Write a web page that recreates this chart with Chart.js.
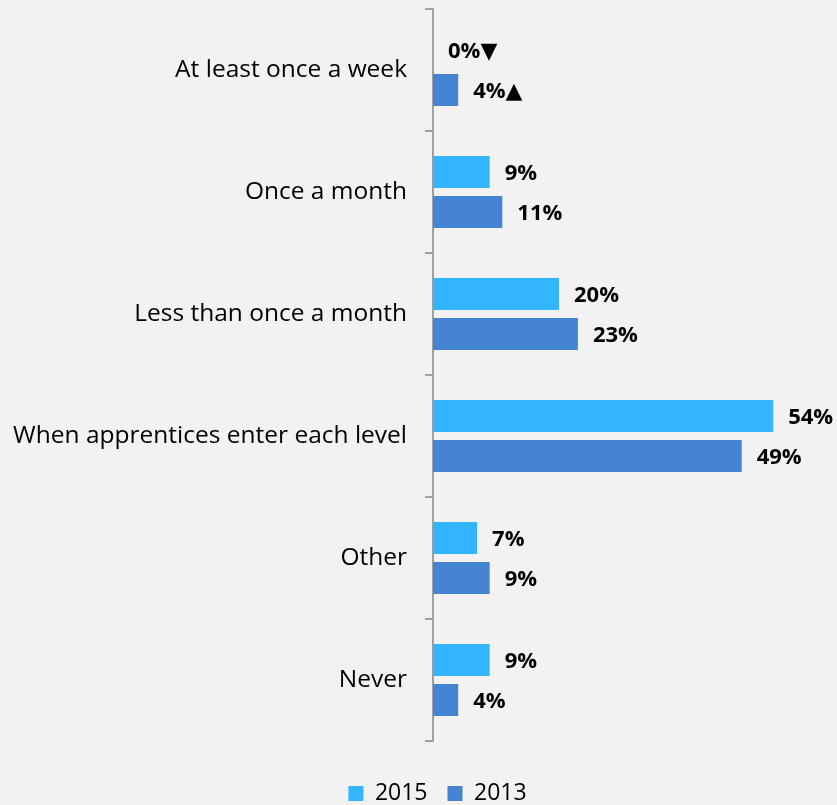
<!DOCTYPE html>
<html>
<head>
<meta charset="utf-8">
<script src="https://cdn.jsdelivr.net/npm/chart.js@4/dist/chart.umd.min.js"></script>
<style>
  html, body { margin: 0; padding: 0; background: #f2f2f2; }
  #wrap { width: 837px; height: 805px; position: relative; }
</style>
</head>
<body>
<div id="wrap"><canvas id="frequencyChart"></canvas></div>
<script>
// Categories and percentages per survey year
const categories = [
  'At least once a week',
  'Once a month',
  'Less than once a month',
  'When apprentices enter each level',
  'Other',
  'Never',
];
const seriesNames = ['2015', '2013'];
const values2015 = [0, 9, 20, 54, 7, 9];
const values2013 = [4, 11, 23, 49, 9, 4];
// significance arrows shown after some labels
const markers2015 = ['▼', '', '', '', '', ''];
const markers2013 = ['▲', '', '', '', '', ''];

const colors = ['#33b5ff', '#4583d3'];
const axisGrey = '#a0a0a0';
const fontFamily = "'Open Sans', 'DejaVu Sans', sans-serif";

// value labels drawn just past the end of each bar
const barValueLabels = {
  id: 'barValueLabels',
  afterDatasetsDraw(chart) {
    const { ctx } = chart;
    const markers = [markers2015, markers2013];
    ctx.save();
    ctx.font = `bold 22px ${fontFamily}`;
    ctx.fillStyle = '#000';
    ctx.textAlign = 'left';
    ctx.textBaseline = 'middle';
    chart.data.datasets.forEach((ds, di) => {
      const meta = chart.getDatasetMeta(di);
      meta.data.forEach((bar, i) => {
        const text = ds.data[i] + '%' + markers[di][i];
        ctx.fillText(text, bar.x + 15, bar.y + 2);
      });
    });
    ctx.restore();
  },
};

// move the legend row right and down a little
const legendShift = {
  id: 'legendShift',
  afterLayout(chart) {
    const lg = chart.legend;
    lg.left += 32;
    lg.right += 32;
    lg.top += 21;
    lg.bottom += 21;
  },
};

const ctx = document.getElementById('frequencyChart').getContext('2d');
new Chart(ctx, {
  type: 'bar',
  data: {
    labels: categories,
    datasets: [
      { label: seriesNames[0], data: values2015, backgroundColor: colors[0], borderWidth: 0 },
      { label: seriesNames[1], data: values2013, backgroundColor: colors[1], borderWidth: 0 },
    ],
  },
  options: {
    indexAxis: 'y',
    responsive: true,
    maintainAspectRatio: false,
    animation: false,
    categoryPercentage: 0.656,
    barPercentage: 0.8,
    layout: { padding: { top: 9, right: 26, bottom: 11, left: 0 } },
    scales: {
      x: { min: 0, max: 60, display: false },
      y: {
        grid: { drawOnChartArea: false, drawTicks: true, tickLength: 8, color: axisGrey, lineWidth: 2, offset: true },
        border: { color: axisGrey, width: 2 },
        ticks: { color: '#000', padding: 18, font: { family: fontFamily, size: 24.5 } },
        afterFit(scale) {
          scale.width = 433;
          scale.paddingTop = 0;
          scale.paddingBottom = 0;
        },
      },
    },
    plugins: {
      legend: {
        position: 'bottom',
        labels: {
          boxWidth: 15,
          boxHeight: 15,
          padding: 20,
          color: '#000',
          font: { family: fontFamily, size: 23 },
        },
      },
      tooltip: { enabled: false },
    },
  },
  plugins: [barValueLabels, legendShift],
});
</script>
</body>
</html>
